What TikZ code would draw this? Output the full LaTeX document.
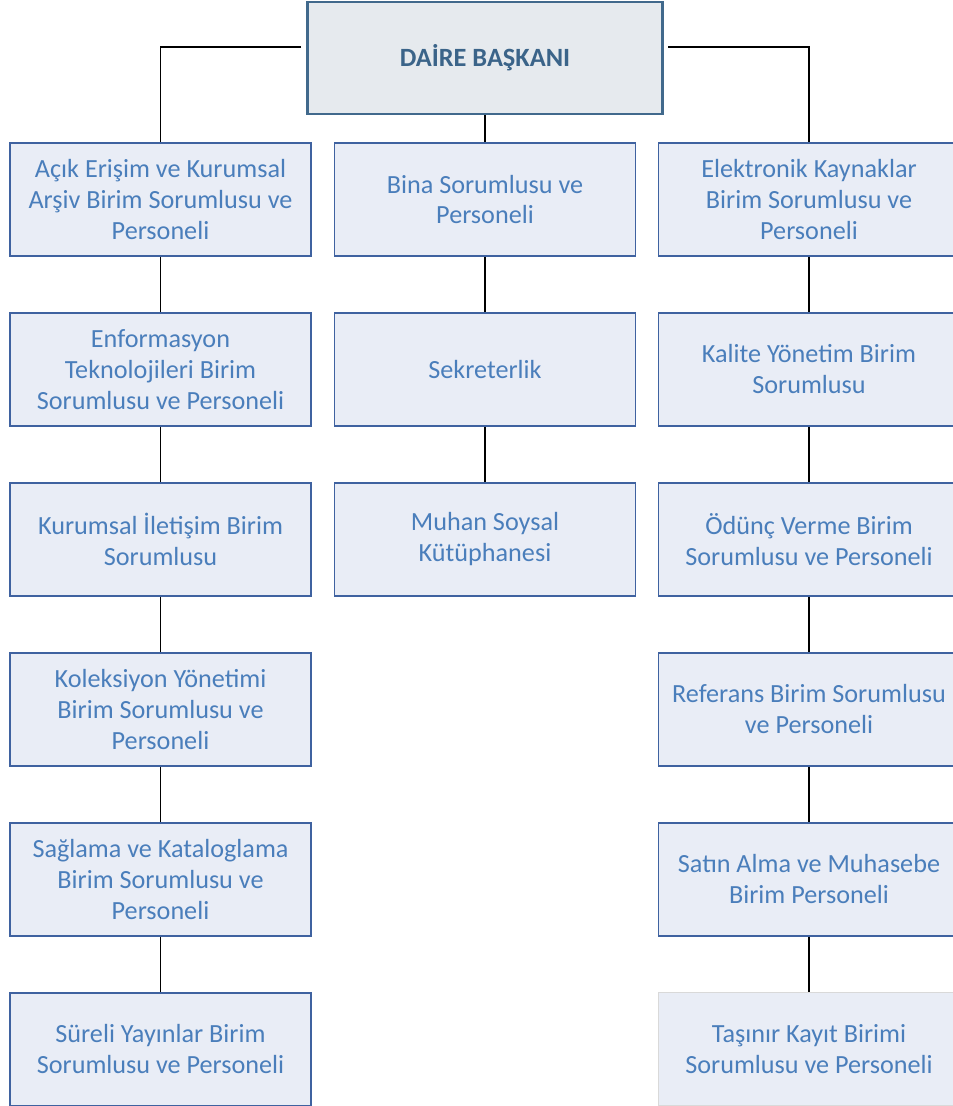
\documentclass[tikz,border=0pt]{standalone}
\usepackage{fontspec}
\setmainfont{Carlito}
\usetikzlibrary{positioning}

\definecolor{boxfill}{HTML}{E9EDF6}
\definecolor{boxline}{HTML}{3F62A0}
\definecolor{boxtext}{HTML}{4A7EBB}
\definecolor{headfill}{HTML}{E6EAEE}
\definecolor{headline}{HTML}{41698C}
\definecolor{headtext}{HTML}{3B6489}

\begin{document}
\begin{tikzpicture}[
		unit/.style={rectangle, draw=boxline, fill=boxfill, line width=1.1pt,
			minimum width=6.02cm, minimum height=2.26cm, align=center,
			text=boxtext, font=\fontsize{14.9}{17.6}\selectfont, inner sep=2pt},
		head/.style={rectangle, draw=headline, fill=headfill, line width=1.6pt,
			minimum width=7.10cm, minimum height=2.24cm, align=center,
			text=headtext, font=\fontsize{15}{18}\selectfont\bfseries},
		link/.style={line width=0.8pt},
		node distance=1.10cm
		]
		
		\useasboundingbox (0,0) rectangle (19.06,-22.12);
		\clip (0,0) rectangle (19.06,-22.12);
		
		% Parameters
		\def\colA{3.21}
		\def\colB{9.70}
		\def\colC{16.18}
		\def\rowone{-3.99}
		
		% Head
		\node[head] (baskan) at (\colB,-1.16) {DAİRE BAŞKANI};
		
		% Left column
		\node[unit] (acik) at (\colA,\rowone) {Açık Erişim ve Kurumsal\\Arşiv Birim Sorumlusu ve\\Personeli};
		\node[unit, below=of acik] (enfo) {Enformasyon\\Teknolojileri Birim\\Sorumlusu ve Personeli};
		\node[unit, below=of enfo] (iletisim) {Kurumsal İletişim Birim\\Sorumlusu};
		\node[unit, below=of iletisim] (koleksiyon) {Koleksiyon Yönetimi\\Birim Sorumlusu ve\\Personeli};
		\node[unit, below=of koleksiyon] (katalog) {Sağlama ve Kataloglama\\Birim Sorumlusu ve\\Personeli};
		\node[unit, below=of katalog] (sureli) {Süreli Yayınlar Birim\\Sorumlusu ve Personeli};
		
		% Middle column
		\node[unit] (bina) at (\colB,\rowone) {Bina Sorumlusu ve\\Personeli};
		\node[unit, below=of bina] (sekreter) {Sekreterlik};
		\node[unit, below=of sekreter] (muhan) {Muhan Soysal\\Kütüphanesi};
		
		% Right column
		\node[unit] (elektronik) at (\colC,\rowone) {Elektronik Kaynaklar\\Birim Sorumlusu ve\\Personeli};
		\node[unit, below=of elektronik] (kalite) {Kalite Yönetim Birim\\Sorumlusu};
		\node[unit, below=of kalite] (odunc) {Ödünç Verme Birim\\Sorumlusu ve Personeli};
		\node[unit, below=of odunc] (referans) {Referans Birim Sorumlusu\\ve Personeli};
		\node[unit, below=of referans] (satin) {Satın Alma ve Muhasebe\\Birim Personeli};
		\node[unit, draw=black!15, line width=0.6pt, below=of satin] (tasinir) {Taşınır Kayıt Birimi\\Sorumlusu ve Personeli};
		
		% Connectors from the head
		\coordinate (solkol) at (6.02,-0.94);
		\coordinate (sagkol) at (13.36,-0.94);
		\draw[link] (solkol) -| (acik.north);
		\draw[link] (sagkol) -| (elektronik.north);
		\draw[link] (baskan.south) -- (bina.north);
		
		% Column connectors
		\draw[link] (acik) -- (enfo) (enfo) -- (iletisim) (iletisim) -- (koleksiyon)
			(koleksiyon) -- (katalog) (katalog) -- (sureli);
		\draw[link] (bina) -- (sekreter) (sekreter) -- (muhan);
		\draw[link] (elektronik) -- (kalite) (kalite) -- (odunc) (odunc) -- (referans)
			(referans) -- (satin) (satin) -- (tasinir);
		
	\end{tikzpicture}
\end{document}
